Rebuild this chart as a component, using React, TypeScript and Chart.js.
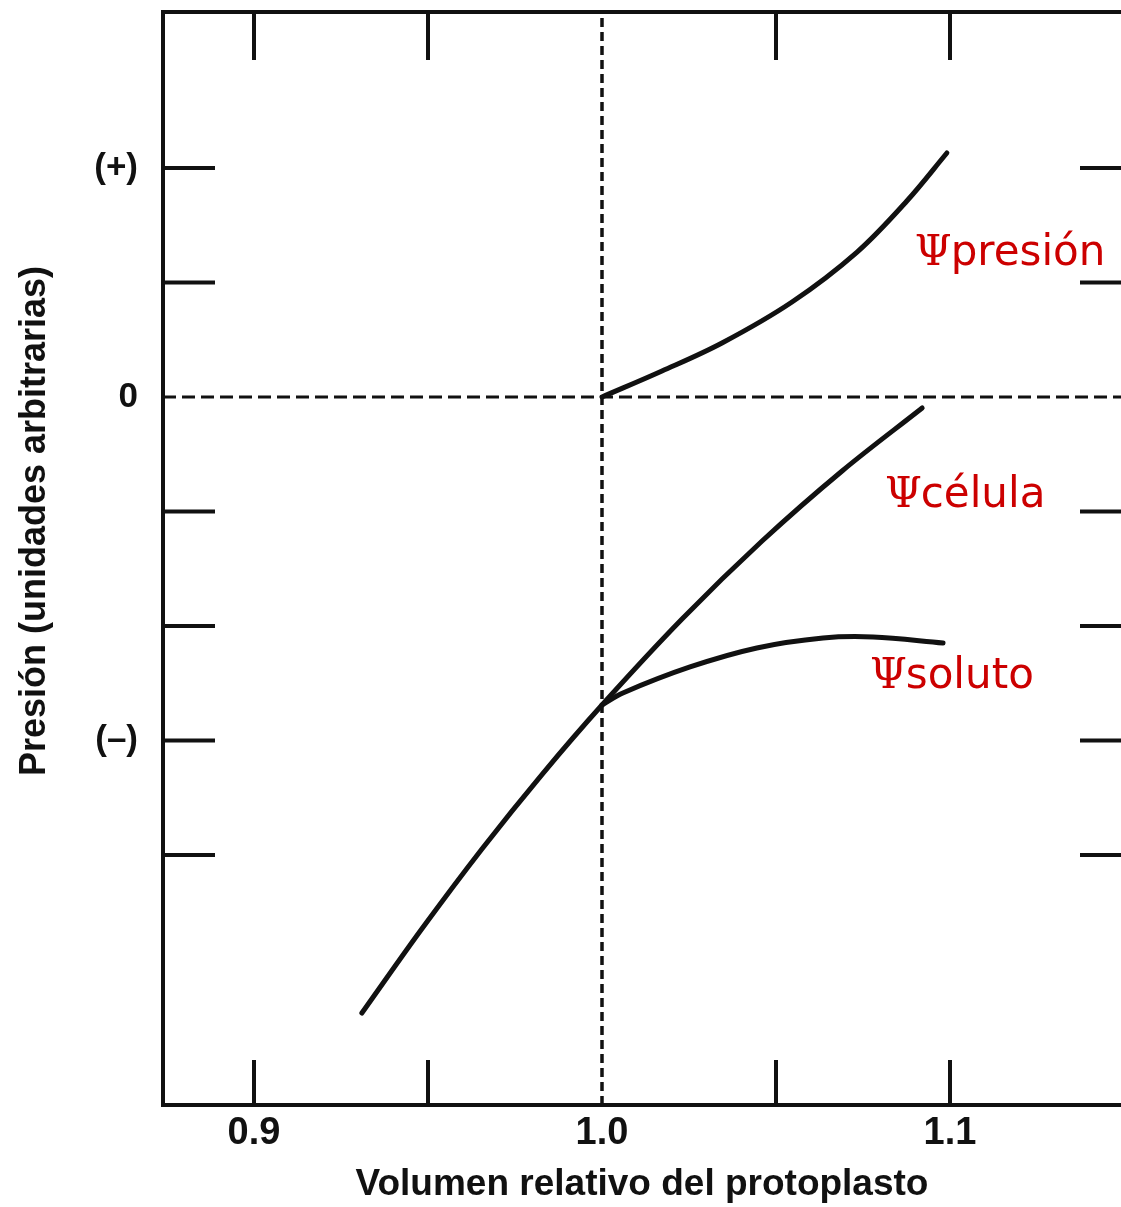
import React, { useEffect, useRef } from "react";
import { Chart, registerables } from "chart.js";

Chart.register(...registerables);

// ---- Data ----
// Ψcélula over the whole volume range (below 1.0 it coincides with Ψsoluto)
const celulaVolume = [0.931, 0.9483, 0.9655, 0.9828, 1.0, 1.023, 1.046, 1.069, 1.092];
const celulaPsi = [-5.38, -4.642, -3.947, -3.295, -2.69, -1.939, -1.258, -0.646, -0.096];

// Ψsoluto branch above volume 1.0 (the part below 1.0 is the shared Ψcélula curve)
const solutoVolume = [1.0, 1.006, 1.0253, 1.0445, 1.0635, 1.0779, 1.098];
const solutoPsi = [-2.69, -2.585, -2.358, -2.192, -2.105, -2.096, -2.148];

const presionVolume = [1.0, 1.01724, 1.03448, 1.0546, 1.0733, 1.0876, 1.0991];
const presionPsi = [0, 0.227, 0.472, 0.83, 1.266, 1.712, 2.131];

const xTickValues = [0.9, 0.95, 1.0, 1.05, 1.1];
const xTickLabels = ["0.9", "", "1.0", "", "1.1"];
const yTickValues = [2, 1, 0, -1, -2, -3, -4];
const yTickLabels = ["(+)", "", "0", "", "", "(\u2013)", ""];

const xRange = [0.873851, 1.149138];
const yRange = [-6.1834, 3.3624];

const refVolume = 1.0;
const refPressure = 0;

const curveNames = ["presión", "célula", "soluto"];
const curveLabelVolume = [1.0899, 1.0813, 1.077];
const curveLabelPsi = [1.153, -0.961, -2.541];

const xTitle = "Volumen relativo del protoplasto";
const yTitle = "Presión (unidades arbitrarias)";

const INK = "#111111";
const RED = "#cc0000";

const toPoints = (xs: number[], ys: number[]) => xs.map((x, i) => ({ x, y: ys[i] }));

const lookup = (vals: number[], labels: string[], v: number) => {
  const i = vals.findIndex((t) => Math.abs(t - v) < 1e-6);
  return i >= 0 ? labels[i] : "";
};

const framePlugin = {
  id: "frame",
  afterDatasetsDraw(chart: any) {
    const { ctx, chartArea: a, scales } = chart;
    const xs = scales.x;
    const ys = scales.y;
    const seg = (x1: number, y1: number, x2: number, y2: number) => {
      ctx.beginPath();
      ctx.moveTo(x1, y1);
      ctx.lineTo(x2, y2);
      ctx.stroke();
    };
    ctx.save();
    ctx.strokeStyle = INK;
    ctx.lineWidth = 4;
    ctx.lineCap = "butt";
    // top frame line
    seg(a.left - 2, a.top, a.right, a.top);
    // inward ticks
    yTickValues.forEach((v) => {
      if (v === refPressure) return;
      const py = ys.getPixelForValue(v);
      seg(a.left, py, a.left + 52, py);
      seg(a.right - 41, py, a.right, py);
    });
    xTickValues.forEach((v) => {
      if (Math.abs(v - refVolume) < 1e-9) return;
      const px = xs.getPixelForValue(v);
      seg(px, a.top, px, a.top + 48);
      seg(px, a.bottom, px, a.bottom - 45);
    });

    // curve labels
    ctx.fillStyle = RED;
    ctx.textBaseline = "alphabetic";
    ctx.textAlign = "left";
    curveNames.forEach((name, i) => {
      const px = xs.getPixelForValue(curveLabelVolume[i]);
      const py = ys.getPixelForValue(curveLabelPsi[i]);
      ctx.font = "42px 'DejaVu Serif'";
      ctx.fillText("\u03A8", px, py);
      const w = ctx.measureText("\u03A8").width;
      ctx.font = "42px 'DejaVu Sans'";
      ctx.fillText(name, px + w - 1, py);
    });

    // y axis title
    ctx.fillStyle = INK;
    ctx.font = "bold 36px 'Liberation Sans'";
    ctx.textAlign = "center";
    ctx.textBaseline = "middle";
    ctx.translate(35, 521);
    ctx.rotate(-Math.PI / 2);
    ctx.fillText(yTitle, 0, 0);
    ctx.restore();
  },
};

export default function App() {
  const canvasRef = useRef<HTMLCanvasElement | null>(null);

  useEffect(() => {
    const canvas = canvasRef.current;
    if (!canvas) return;
    const curveStyle = {
      borderColor: INK,
      borderWidth: 5,
      pointRadius: 0,
      fill: false,
      tension: 0.35,
      borderCapStyle: "round" as const,
      borderJoinStyle: "round" as const,
    };
    const chart = new Chart(canvas, {
      type: "line",
      data: {
        datasets: [
          { label: "Ψpresión", data: toPoints(presionVolume, presionPsi), ...curveStyle },
          { label: "Ψcélula", data: toPoints(celulaVolume, celulaPsi), ...curveStyle },
          { label: "Ψsoluto", data: toPoints(solutoVolume, solutoPsi), ...curveStyle },
          {
            label: "ref-x",
            data: [
              { x: refVolume, y: yRange[0] },
              { x: refVolume, y: yRange[1] },
            ],
            borderColor: INK,
            borderWidth: 3.5,
            borderDash: [9, 5],
            pointRadius: 0,
          },
          {
            label: "ref-y",
            data: [
              { x: xRange[0], y: refPressure },
              { x: xRange[1], y: refPressure },
            ],
            borderColor: INK,
            borderWidth: 3,
            borderDash: [13, 6],
            pointRadius: 0,
          },
        ],
      },
      options: {
        animation: false,
        responsive: false,
        devicePixelRatio: 1,
        layout: { padding: { top: 12, right: 0, left: 0, bottom: 0 } },
        plugins: {
          legend: { display: false },
          tooltip: { enabled: false },
        },
        scales: {
          x: {
            type: "linear",
            position: "bottom",
            min: xRange[0],
            max: xRange[1],
            afterFit: (s: any) => {
              s.height = 102;
              s.paddingLeft = 0;
              s.paddingRight = 0;
            },
            afterBuildTicks: (s: any) => {
              s.ticks = xTickValues.map((value) => ({ value }));
            },
            grid: { display: true, drawOnChartArea: false, drawTicks: false },
            border: { display: true, color: INK, width: 4 },
            ticks: {
              autoSkip: false,
              maxRotation: 0,
              padding: 6,
              color: INK,
              font: { family: "'Liberation Sans'", size: 38, weight: "bold" },
              callback: (v: any) => lookup(xTickValues, xTickLabels, Number(v)),
            },
            title: {
              display: true,
              text: xTitle,
              color: INK,
              font: { family: "'Liberation Sans'", size: 37, weight: "bold" },
              padding: { top: 0, bottom: 0 },
            },
          },
          y: {
            type: "linear",
            position: "left",
            min: yRange[0],
            max: yRange[1],
            afterFit: (s: any) => {
              s.width = 163;
              s.paddingTop = 0;
              s.paddingBottom = 0;
            },
            afterBuildTicks: (s: any) => {
              s.ticks = yTickValues.map((value) => ({ value }));
            },
            grid: { display: true, drawOnChartArea: false, drawTicks: false },
            border: { display: true, color: INK, width: 4 },
            ticks: {
              autoSkip: false,
              padding: 25,
              color: INK,
              font: { family: "'Liberation Sans'", size: 35, weight: "bold" },
              callback: (v: any) => lookup(yTickValues, yTickLabels, Number(v)),
            },
          },
        },
      },
      plugins: [framePlugin],
    } as any);
    return () => chart.destroy();
  }, []);

  return (
    <div style={{ position: "absolute", left: 0, top: 0, width: 1121, height: 1207, background: "#ffffff" }}>
      <canvas ref={canvasRef} width={1121} height={1207} style={{ display: "block" }} />
    </div>
  );
}
